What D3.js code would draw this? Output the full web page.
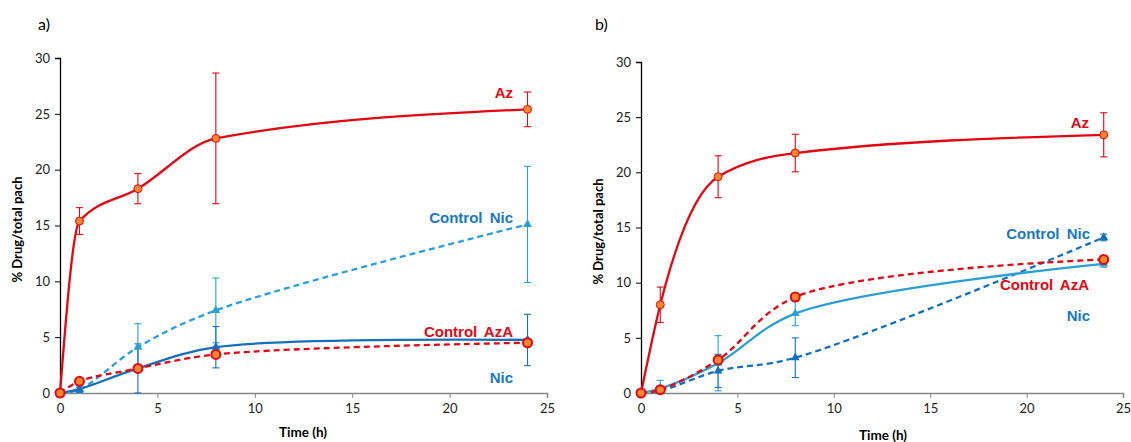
<!DOCTYPE html>
<html>
<head>
<meta charset="utf-8">
<script src="https://cdn.jsdelivr.net/npm/d3@7"></script>
<style>
  body { margin: 0; background: #fff; }
  svg { display: block; }
</style>
</head>
<body>
<div id="chart"></div>
<script>
/** Sampling times (h), shared by every series. */
const times = [0, 1, 4, 8, 24];

/** Panel a) values and error half-widths. */
const aAz = [0, 15.4, 18.3, 22.8, 25.4];
const aAzErr = [0, 1.2, 1.35, 5.85, 1.55];
const aControlNic = [0, 0.3, 4.1, 7.4, 15.1];
const aControlNicErr = [0, 0.2, 2.1, 2.9, 5.2];
const aNic = [0, 0.35, 2.2, 4.1, 4.75];
const aNicErr = [0, 0.3, 2.2, 1.85, 2.3];
const aControlAzA = [0, 1.05, 2.2, 3.45, 4.5];
const aControlAzAErr = [0, 0.2, 0.2, 0.2, 0.3];

/** Panel b) values and error half-widths. */
const bAz = [0, 8.0, 19.6, 21.75, 23.4];
const bAzErr = [0, 1.6, 1.9, 1.7, 2.0];
const bControlNic = [0, 0.2, 2.0, 3.2, 14.1];
const bControlNicErr = [0, 0.2, 1.5, 1.8, 0.3];
const bNic = [0, 0.4, 2.7, 7.2, 11.7];
const bNicErr = [0, 0.75, 2.5, 1.1, 0.3];
const bControlAzA = [0, 0.3, 3.0, 8.7, 12.1];
const bControlAzAErr = [0, 0.2, 0.3, 0.3, 0.3];

/** Axis ticks. */
const xTicks = [0, 5, 10, 15, 20, 25];
const yTicks = [0, 5, 10, 15, 20, 25, 30];

const RED = "#e30613";
const ORANGE = "#f7882f";
const LIGHT_BLUE = "#2a9fd8";
const DARK_BLUE = "#1470bd";

const W = 1131, H = 442;

const svg = d3.select("#chart").append("svg")
    .attr("width", W)
    .attr("height", H);

// One panel = its box, its series and where to put the end labels
const panels = [
  {
    tag: "a)", tagX: 38, x0: 60, x1: 547, y0: 393, y1: 58, titleX: 303, titleY: 437,
    series: [
      { name: "Control Nic", v: aControlNic, e: aControlNicErr, color: LIGHT_BLUE, dash: "6,4", mark: "tri", lx: 513, ly: 218, lc: "#1a78c2" },
      { name: "Nic", v: aNic, e: aNicErr, color: DARK_BLUE, dash: null, mark: "tri", lx: 513, ly: 378, lc: "#1a78c2" },
      { name: "Az", v: aAz, e: aAzErr, color: RED, dash: null, mark: "dot", lx: 513, ly: 93, lc: RED },
      { name: "Control AzA", v: aControlAzA, e: aControlAzAErr, color: RED, dash: "6,4", mark: "big", lx: 513, ly: 332, lc: RED }
    ]
  },
  {
    tag: "b)", tagX: 595, x0: 641, x1: 1123, y0: 393, y1: 62, titleX: 883, titleY: 440,
    series: [
      { name: "Control Nic", v: bControlNic, e: bControlNicErr, color: DARK_BLUE, dash: "6,4", mark: "tri", lx: 1090, ly: 234, lc: "#1a78c2" },
      { name: "Nic", v: bNic, e: bNicErr, color: LIGHT_BLUE, dash: null, mark: "tri", lx: 1090, ly: 316, lc: "#1a78c2" },
      { name: "Az", v: bAz, e: bAzErr, color: RED, dash: null, mark: "dot", lx: 1089, ly: 123, lc: RED },
      { name: "Control AzA", v: bControlAzA, e: bControlAzAErr, color: RED, dash: "6,4", mark: "big", lx: 1089, ly: 285, lc: RED }
    ]
  }
];

panels.forEach(p => {
  const x = d3.scaleLinear().domain([0, 25]).range([p.x0, p.x1]);
  const y = d3.scaleLinear().domain([0, 30]).range([p.y0, p.y1]);
  const g = svg.append("g");

  // Panel tag
  g.append("text")
      .attr("x", p.tagX).attr("y", 30)
      .attr("font-family", "Lato, sans-serif")
      .attr("font-size", 16)
      .text(p.tag);

  // Y axis
  const ya = g.append("g")
      .attr("transform", `translate(${p.x0},0)`)
      .call(d3.axisLeft(y).tickValues(yTicks).tickSize(5).tickPadding(5));
  ya.select(".domain").attr("stroke", "#000").attr("stroke-width", 1.3);
  ya.selectAll("text").attr("font-family", "Lato, sans-serif").attr("font-size", 13).attr("fill", "#222");

  // X axis
  const xa = g.append("g")
      .attr("transform", `translate(0,${p.y0})`)
      .call(d3.axisBottom(x).tickValues(xTicks).tickSize(5).tickSizeOuter(5).tickPadding(6));
  xa.select(".domain").attr("stroke", "#888").attr("stroke-width", 1.5);
  xa.selectAll(".tick line").attr("stroke", "#888");
  xa.selectAll("text").attr("font-family", "Lato, sans-serif").attr("font-size", 13).attr("fill", "#222");

  // Axis titles
  g.append("text")
      .attr("x", p.titleX).attr("y", p.titleY)
      .attr("text-anchor", "middle")
      .attr("font-family", "Lato, sans-serif")
      .attr("font-weight", "bold")
      .attr("font-size", 13.5)
      .text("Time (h)");
  g.append("text")
      .attr("transform", `translate(${p.x0 - 38},${(p.y0 + p.y1) / 2 + 4}) rotate(-90)`)
      .attr("text-anchor", "middle")
      .attr("font-family", "Lato, sans-serif")
      .attr("font-weight", "bold")
      .attr("font-size", 13)
      .text("% Drug/total pach");

  // Fast-rising Az curves look right with monotone smoothing, the rest with centripetal
  const lineFor = (s) => d3.line()
      .x((d, i) => x(times[i]))
      .y(d => y(d))
      .curve(s.name === "Az" ? d3.curveMonotoneX : d3.curveCatmullRom.alpha(0.5));

  // Error bars first, under the lines
  p.series.forEach(s => {
    const eb = g.append("g").attr("stroke", s.color).attr("stroke-width", 1.1);
    s.v.forEach((v, i) => {
      if (!s.e[i]) return;
      const cx = x(times[i]);
      const top = y(v + s.e[i]), bot = y(Math.max(0, v - s.e[i]));
      eb.append("line").attr("x1", cx).attr("x2", cx).attr("y1", top).attr("y2", bot);
      eb.append("line").attr("x1", cx - 3.5).attr("x2", cx + 3.5).attr("y1", top).attr("y2", top);
      eb.append("line").attr("x1", cx - 3.5).attr("x2", cx + 3.5).attr("y1", bot).attr("y2", bot);
    });
  });

  // Lines and markers
  p.series.forEach(s => {
    g.append("path")
        .datum(s.v)
        .attr("d", lineFor(s))
        .attr("fill", "none")
        .attr("stroke", s.color)
        .attr("stroke-width", 2.3)
        .attr("stroke-dasharray", s.dash);

    const marks = g.append("g");
    s.v.forEach((v, i) => {
      const cx = x(times[i]), cy = y(v);
      if (s.mark === "tri") {
        marks.append("path")
            .attr("d", d3.symbol(d3.symbolTriangle, 34)())
            .attr("transform", `translate(${cx},${cy})`)
            .attr("fill", s.color);
      } else {
        marks.append("circle")
            .attr("cx", cx).attr("cy", cy)
            .attr("r", s.mark === "big" ? 4.5 : 4)
            .attr("fill", ORANGE)
            .attr("stroke", RED)
            .attr("stroke-width", s.mark === "big" ? 2 : 1);
      }
    });

    // End label
    g.append("text")
        .attr("x", s.lx).attr("y", s.ly)
        .attr("dy", "0.35em")
        .attr("text-anchor", "end")
        .attr("font-family", "Liberation Sans, Arial, sans-serif")
        .attr("font-weight", "bold")
        .attr("font-size", 15)
        .attr("word-spacing", 3)
        .attr("fill", s.lc)
        .text(s.name);
  });
});
</script>
</body>
</html>
